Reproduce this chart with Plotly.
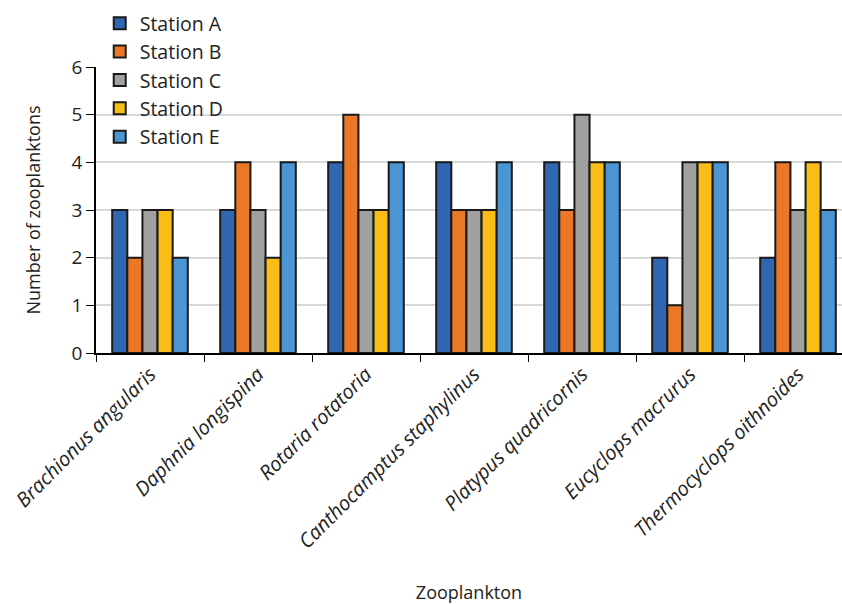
import plotly.graph_objects as go

species = [
    "Brachionus angularis",
    "Daphnia longispina",
    "Rotaria rotatoria",
    "Canthocamptus staphylinus",
    "Platypus quadricornis",
    "Eucyclops macrurus",
    "Thermocyclops oithnoides",
]
station_a = [3, 3, 4, 4, 4, 2, 2]
station_b = [2, 4, 5, 3, 3, 1, 4]
station_c = [3, 3, 3, 3, 5, 4, 3]
station_d = [3, 2, 3, 3, 4, 4, 4]
station_e = [2, 4, 4, 4, 4, 4, 3]

series = [
    ("Station A", station_a, "#3166B1"),
    ("Station B", station_b, "#EA7827"),
    ("Station C", station_c, "#A0A0A0"),
    ("Station D", station_d, "#F8BD17"),
    ("Station E", station_e, "#4A95D2"),
]

FONT = "Open Sans, Segoe UI, sans-serif"

fig = go.Figure()
for name, vals, color in series:
    fig.add_trace(go.Bar(
        x=species, y=vals, name=name,
        marker=dict(color=color, line=dict(color="#1a1a1a", width=2)),
    ))

fig.update_layout(
    width=842, height=604,
    margin=dict(l=96, r=0, t=67, b=251),
    paper_bgcolor="white", plot_bgcolor="white",
    font=dict(family=FONT, color="#222", size=18),
    barmode="group", bargap=0.3, bargroupgap=0,
    showlegend=True,
    legend=dict(
        x=0.005, y=1.22, xanchor="left", yanchor="top",
        bgcolor="rgba(0,0,0,0)", font=dict(size=19.5, family=FONT),
        itemwidth=30, tracegroupgap=0,
    ),
    xaxis=dict(
        range=[-0.5, -0.5 + 746 / 108],
        showline=True, linecolor="black", linewidth=1.5,
        ticks="outside", tickson="boundaries", ticklen=7, tickcolor="black",
        tickangle=-45,
        tickfont=dict(size=20, family=FONT, style="italic"),
        title=dict(text="Zooplankton", font=dict(size=18), standoff=34),
        showgrid=False,
    ),
    yaxis=dict(
        range=[0, 6], dtick=1,
        showline=True, linecolor="black", linewidth=1.5,
        ticks="outside", ticklen=8, tickcolor="black",
        tickfont=dict(size=19, family=FONT),
        showgrid=True, gridcolor="#d9d9d9", gridwidth=1.5,
        zeroline=False,
        title=dict(text="Number of zooplanktons", font=dict(size=18), standoff=26),
    ),
)

fig.write_html("out.html")
